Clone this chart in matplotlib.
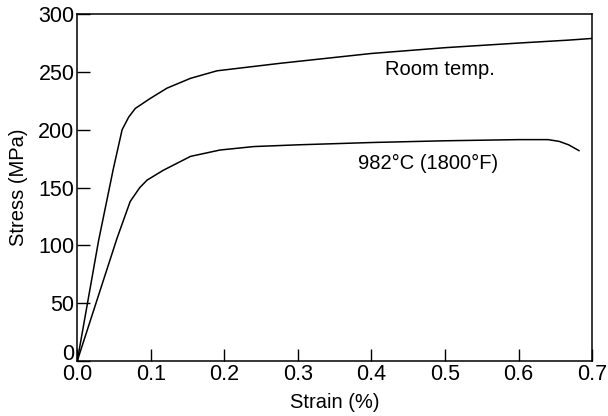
import numpy as np
import matplotlib.pyplot as plt
import matplotlib.transforms as mtransforms

plt.rcParams['font.family'] = ['Liberation Sans', 'DejaVu Sans']

# room temperature curve
strain_rt = [0.0, 0.029, 0.049, 0.061, 0.07, 0.079, 0.099, 0.122, 0.154, 0.19, 0.276, 0.4, 0.5, 0.6, 0.667, 0.7]
stress_rt = [0, 104, 166, 200, 211, 218.5, 227, 236, 244.5, 251, 257.5, 266, 271, 275, 277.5, 279]

# 982 C curve
strain_hot = [0.0, 0.054, 0.072, 0.085, 0.095, 0.117, 0.154, 0.194, 0.24, 0.3, 0.4, 0.5, 0.6, 0.64, 0.655, 0.668, 0.682]
stress_hot = [0, 106, 138, 150, 156.5, 165, 177, 182.5, 185.5, 187, 189, 190.5, 191.5, 191.5, 190, 187, 182]

fig = plt.figure(figsize=(6.08, 4.16), dpi=100)
ax = fig.add_axes([0.127, 0.132, 0.847, 0.834])

ax.plot(strain_rt, stress_rt, color='black', lw=1.1)
ax.plot(strain_hot, stress_hot, color='black', lw=1.1)

ax.text(0.419, 247, 'Room temp.', fontsize=14.5, va='baseline', ha='left')
ax.text(0.382, 166, '982°C (1800°F)', fontsize=14.5, va='baseline', ha='left')

ax.set_xlim(0, 0.7)
ax.set_ylim(0, 300)
ax.set_xticks(np.arange(0, 0.71, 0.1))
ax.set_xticklabels(['0.0', '0.1', '0.2', '0.3', '0.4', '0.5', '0.6', '0.7'])
ax.set_yticks([0, 50, 100, 150, 200, 250, 300])
ax.tick_params(direction='in', length=9, width=1, labelsize=15.5, pad=2)
for s in ax.spines.values():
    s.set_linewidth(1.1)

# nudge the y "0" up so it clears the x "0.0" like in the original
lab0 = ax.get_yticklabels()[0]
lab0.set_transform(lab0.get_transform() + mtransforms.ScaledTranslation(0, 9/100, fig.dpi_scale_trans))

ax.set_xlabel('Strain (%)', fontsize=14.5, labelpad=6)
ax.set_ylabel('Stress (MPa)', fontsize=14.5, labelpad=7)

fig.savefig('out.png', dpi=100)
